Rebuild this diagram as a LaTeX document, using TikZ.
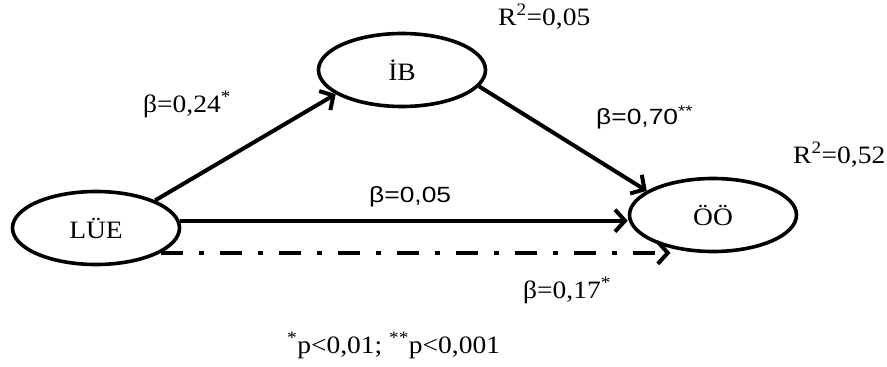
\documentclass[tikz,border=0pt]{standalone}
\usepackage{fontspec}
\setmainfont{Liberation Serif}[FakeStretch=1.1]
\newfontfamily\sansfam{Liberation Sans}[FakeStretch=1.2]
\usetikzlibrary{shapes.geometric,arrows.meta}
\tikzset{
  var/.style={draw, ellipse, line width=3.6pt, minimum width=167pt, minimum height=73pt, inner sep=0pt,
    font=\fontsize{25}{30}\selectfont},
  serlab/.style={anchor=base west, inner sep=0pt, font=\fontsize{25}{30}\selectfont},
  sanlab/.style={anchor=base west, inner sep=0pt, font=\sansfam\fontsize{22}{26}\selectfont},
  conn/.style={line width=4pt, -{Straight Barb[length=10pt,width=22pt,line width=4pt]}},
  dashconn/.style={conn, dash pattern=on 22pt off 16pt on 5pt off 16pt}
}
\begin{document}
\begin{tikzpicture}[x=1pt,y=-1pt]
\useasboundingbox (0,0) rectangle (887,367);
\node[var] (lue) at (96,228) {LÜE};
\node[var] (ib) at (402,70) {İB};
\node[var] (oo) at (713,215) {ÖÖ};
\draw[conn] (lue.25) -- (ib.200);
\draw[conn] (ib.-12) -- (oo.160);
\draw[conn] (lue.5) -- (lue.5 -| oo.west);
\draw[dashconn] (lue.-21.6) -- (lue.-21.6 -| oo.-142);
\node[serlab] (l1) at (143,112) {β=0,24\textsuperscript{*}};
\node[serlab] (l2) at (498,25) {R\textsuperscript{2}=0,05};
\node[sanlab] (l3) at (596,124) {β=0,70\textsuperscript{**}};
\node[serlab] (l4) at (793,163) {R\textsuperscript{2}=0,52};
\node[sanlab] (l5) at (369,202) {β=0,05};
\node[serlab] (l6) at (523,298) {β=0,17\textsuperscript{*}};
\node[serlab] (l7) at (287,353) {\textsuperscript{*}p<0,01; \textsuperscript{**}p<0,001};
\end{tikzpicture}
\end{document}
